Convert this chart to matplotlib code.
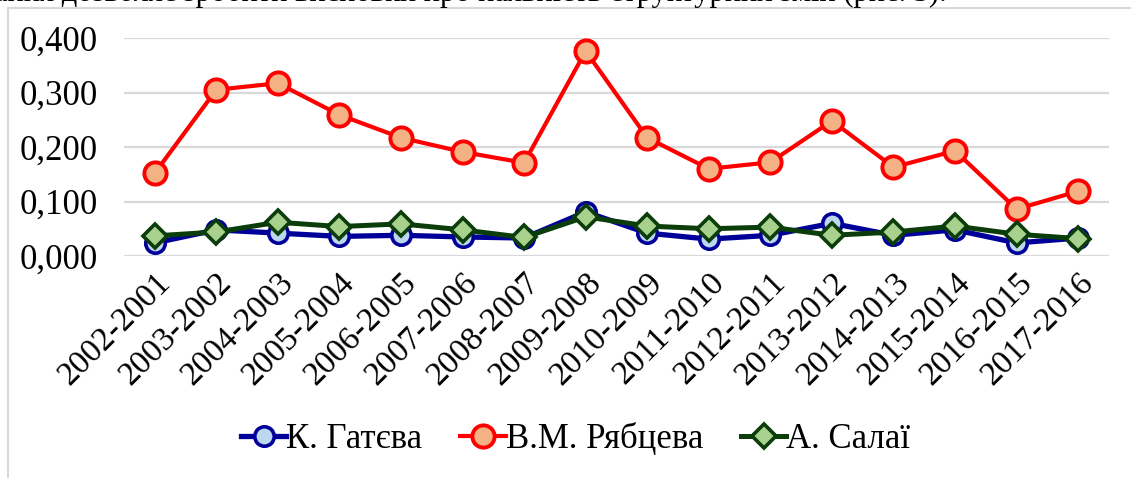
import matplotlib.pyplot as plt
from matplotlib.ticker import FuncFormatter
from matplotlib.lines import Line2D

periods = ["2002-2001", "2003-2002", "2004-2003", "2005-2004", "2006-2005",
           "2007-2006", "2008-2007", "2009-2008", "2010-2009", "2011-2010",
           "2012-2011", "2013-2012", "2014-2013", "2015-2014", "2016-2015",
           "2017-2016"]

gateva = [0.024, 0.048, 0.042, 0.036, 0.038, 0.035, 0.033, 0.081,
          0.042, 0.031, 0.038, 0.060, 0.038, 0.048, 0.024, 0.033]
ryabtseva = [0.152, 0.305, 0.317, 0.259, 0.217, 0.191, 0.171, 0.376,
             0.217, 0.160, 0.172, 0.248, 0.163, 0.193, 0.086, 0.119]
salai = [0.037, 0.044, 0.062, 0.054, 0.059, 0.048, 0.034, 0.072,
         0.055, 0.050, 0.053, 0.038, 0.044, 0.055, 0.040, 0.032]

names = ["К. Гатєва", "В.М. Рябцева", "А. Салаї"]

plt.rcParams['font.family'] = ['Liberation Serif', 'DejaVu Serif']

fig = plt.figure(figsize=(11.31, 4.78), dpi=100)
ax = fig.add_axes([0.1096, 0.4644, 0.8709, 0.4561])

x = list(range(len(periods)))

# series styles
styles = [
    dict(color="#000099", lw=3.8, marker="o", ms=14, mfc="#BDD7EE", mec="#000099", mew=2.6),
    dict(color="#FF0000", lw=3.0, marker="o", ms=16, mfc="#F4B183", mec="#FF0000", mew=2.8),
    dict(color="#0B3D0B", lw=3.6, marker="D", ms=12, mfc="#A9D18E", mec="#0B3D0B", mew=2.6),
]
for vals, st in zip([gateva, ryabtseva, salai], styles):
    ax.plot(x, vals, zorder=3, **st)

ax.set_xlim(-0.5, len(periods) - 0.5)
ax.set_ylim(0, 0.4)
ax.set_yticks([0, 0.1, 0.2, 0.3, 0.4])
ax.yaxis.set_major_formatter(FuncFormatter(lambda v, p: f"{v:.3f}".replace(".", ",")))
ax.grid(axis="y", color="#D9D9D9", lw=1.6)
ax.set_axisbelow(True)
for s in ax.spines.values():
    s.set_visible(False)

ax.set_xticks(x)
ax.set_xticklabels(periods, rotation=45, ha="right", rotation_mode="anchor")
ax.tick_params(axis="both", length=0)
ax.tick_params(axis="x", labelsize=24, pad=8)
ax.tick_params(axis="y", labelsize=25, pad=19)

handles = [Line2D([], [], **st) for st in styles]
fig.legend(handles, names, loc="center", bbox_to_anchor=(0.509, 0.08), ncol=3,
           frameon=False, fontsize=25, handlelength=1.3, handletextpad=0.0,
           columnspacing=1.1)

# chart frame
fig.add_artist(Line2D([8 / 1131, 8 / 1131], [0, 1 - 8 / 478], transform=fig.transFigure,
                      color="#D9D9D9", lw=1.5))
fig.add_artist(Line2D([8 / 1131, 1], [1 - 8 / 478, 1 - 8 / 478], transform=fig.transFigure,
                      color="#D9D9D9", lw=1.5))

# cropped line of body text above the chart
fig.text(-0.005, 1 - 1.5 / 478, "ання дозволяє зробити висновки про наявність структурних змін (рис. 3).",
         fontsize=22, va="baseline", ha="left")

fig.savefig("out.png", dpi=100)
